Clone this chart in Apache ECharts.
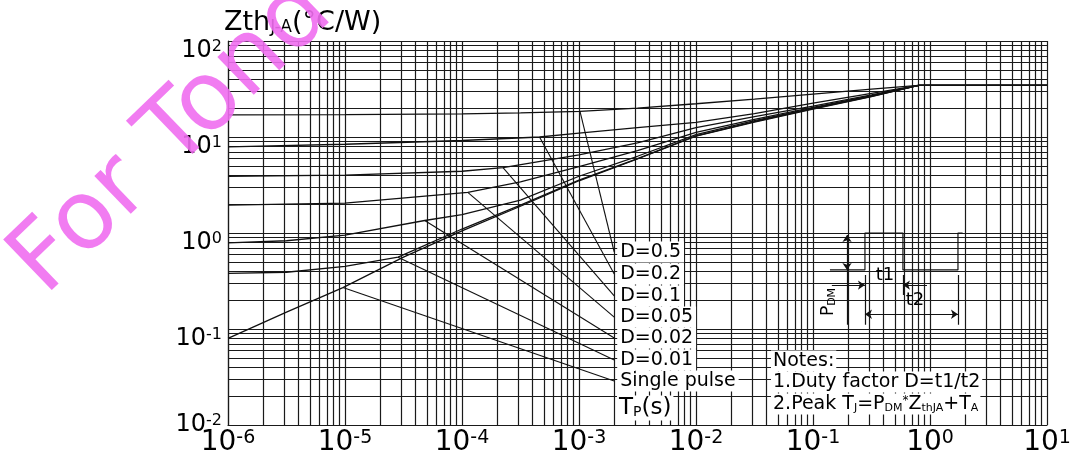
<!DOCTYPE html>
<html>
<head>
<meta charset="utf-8">
<script src="https://cdn.jsdelivr.net/npm/echarts@6.0.0/dist/echarts.min.js"></script>
<style>
  html, body { margin: 0; padding: 0; background: #fff; }
  #chart { width: 1079px; height: 455px; }
</style>
</head>
<body>
<div id="chart"></div>
<script>
// --- DATA ---
// [Tp (s), ZthJ-A (°C/W)]
const curveD05 = [[1e-6, 17], [1e-5, 17.1], [1e-4, 17.4], [3.16e-4, 17.8], [1.02e-3, 18.5], [3.16e-3, 20], [1e-2, 22.2], [3.16e-2, 24.8], [0.1, 28], [0.316, 31.5], [0.8, 34.5], [10, 34.5]];
const curveD02 = [[1e-6, 7.9], [1e-5, 8.4], [1e-4, 9.2], [4.6e-4, 10], [1e-3, 11], [3.16e-3, 12.5], [1e-2, 14.2], [3.16e-2, 17.5], [0.1, 22.5], [0.316, 28.5], [0.8, 34.5], [10, 34.5]];
const curveD01 = [[1e-6, 3.9], [1e-5, 4.0], [1e-4, 4.4], [2.24e-4, 4.8], [1e-3, 6.5], [3.16e-3, 8.7], [1e-2, 12.5], [3.16e-2, 16.3], [0.1, 21], [0.316, 27.5], [0.8, 34.5], [10, 34.5]];
const curveD005 = [[1e-6, 1.95], [1e-5, 2.05], [1.12e-4, 2.65], [3.16e-4, 3.4], [1e-3, 4.9], [3.16e-3, 7.2], [1e-2, 11.2], [3.16e-2, 15.3], [0.1, 20.4], [0.316, 27], [0.8, 34.5], [10, 34.5]];
const curveD002 = [[1e-6, 0.79], [3.16e-6, 0.83], [1e-5, 0.95], [4.8e-5, 1.35], [1e-4, 1.55], [3.16e-4, 2.2], [1e-3, 3.9], [3.16e-3, 6.3], [1e-2, 10.6], [3.16e-2, 14.8], [0.1, 20], [0.316, 26.8], [0.8, 34.5], [10, 34.5]];
const curveD001 = [[1e-6, 0.38], [3.16e-6, 0.39], [1e-5, 0.45], [2.84e-5, 0.56], [1e-4, 1.1], [3.16e-4, 1.95], [1e-3, 3.55], [3.16e-3, 5.95], [1e-2, 10.3], [3.16e-2, 14.5], [0.1, 19.7], [0.316, 26.5], [0.8, 34.5], [10, 34.5]];
const curveSingle = [[1e-6, 0.08], [3.16e-6, 0.15], [9.6e-6, 0.27], [3.16e-5, 0.56], [1e-4, 1.05], [3.16e-4, 1.9], [1e-3, 3.5], [3.16e-3, 5.9], [1e-2, 10.2], [3.16e-2, 14.3], [0.1, 19.5], [0.316, 26.4], [0.8, 34.5], [10, 34.5]];

// leader lines: from a point on the curve to its label
const leaderD05 = [[1.02e-3, 18.5], [2e-3, 0.634]];
const leaderD02 = [[4.6e-4, 10], [2e-3, 0.374]];
const leaderD01 = [[2.24e-4, 4.8], [2e-3, 0.221]];
const leaderD005 = [[1.12e-4, 2.65], [2e-3, 0.133]];
const leaderD002 = [[4.8e-5, 1.35], [2e-3, 0.0806]];
const leaderD001 = [[2.84e-5, 0.56], [2e-3, 0.0475]];
const leaderSingle = [[9.6e-6, 0.27], [2e-3, 0.0287]];

const dutyLabels = ['D=0.5', 'D=0.2', 'D=0.1', 'D=0.05', 'D=0.02', 'D=0.01', 'Single pulse'];

// log paper grid
const gridMultipliers = [1, 2, 3, 4, 5, 6, 7, 8, 9];
const xDecades = [1e-6, 1e-5, 1e-4, 1e-3, 1e-2, 1e-1, 1];
const yDecades = [0.01, 0.1, 1, 10];
const xMin = 1e-6, xMax = 10, yMin = 0.01, yMax = 100;

// inset pulse sketch (data coords)
const pulseShape = [[0.1396, 0.412], [0.278, 0.412], [0.278, 1.0], [0.587, 1.0], [0.587, 0.412], [1.734, 0.412], [1.734, 1.0], [1.9, 1.0]];
const insetBox = [[0.13, 0.98], [1.88, 0.11]];
const arrowsBoth = [
  [[0.1954, 0.953], [0.1954, 0.412]],   // P_DM
  [[0.278, 0.1425], [1.734, 0.1425]]    // t2
];
const arrowsEnd = [
  [[0.145, 0.287], [0.278, 0.287]],     // t1 from left
  [[0.942, 0.287], [0.587, 0.287]]      // t1 from right
];
const plainLines = [
  [[0.1954, 0.412], [0.1954, 0.1106]],
  [[0.278, 0.365], [0.278, 0.1106]],
  [[0.587, 0.365], [0.587, 0.226]],
  [[1.734, 0.365], [1.734, 0.1106]]
];

// --- BUILD ---
const FONT = 'DejaVu Sans';
const INK = '#111';

const xGrid = [];
xDecades.forEach(d => gridMultipliers.forEach(m => xGrid.push(m * d)));
xGrid.push(xMax);
const yGrid = [];
yDecades.forEach(d => gridMultipliers.forEach(m => yGrid.push(m * d)));
yGrid.push(yMax);

const expOf = v => Math.round(Math.log10(v));

const curves = [curveD05, curveD02, curveD01, curveD005, curveD002, curveD001, curveSingle];
const leaders = [leaderD05, leaderD02, leaderD01, leaderD005, leaderD002, leaderD001, leaderSingle];

const series = [];

// grid lines
series.push({
  type: 'lines', coordinateSystem: 'cartesian2d', z: 1, silent: true,
  polyline: false, symbol: 'none',
  lineStyle: { color: '#1a1a1a', width: 1.2, opacity: 1, curveness: 0 },
  data: xGrid.map(v => ({ coords: [[v, yMin], [v, yMax]] }))
    .concat(yGrid.map(v => ({ coords: [[xMin, v], [xMax, v]] })))
});

// white inset box
series.push({
  type: 'line', data: [], z: 2, silent: true,
  markArea: {
    silent: true, animation: false,
    itemStyle: { color: '#fff' },
    data: [[{ coord: insetBox[0] }, { coord: insetBox[1] }]]
  }
});

curves.forEach((c, i) => {
  series.push({
    name: dutyLabels[i], type: 'line', data: c, z: 3, silent: true,
    symbol: 'none', lineStyle: { color: INK, width: 1.3 }
  });
});

leaders.forEach((l, i) => {
  series.push({
    name: dutyLabels[i] + ' ', type: 'line', data: l, z: 4, silent: true,
    symbol: 'none', lineStyle: { color: INK, width: 1.1 },
    endLabel: {
      show: true, formatter: dutyLabels[i], distance: 3,
      color: '#000', fontFamily: FONT, fontSize: 19,
      backgroundColor: '#fff', padding: [1, 3, 1, 3]
    }
  });
});

// inset sketch
series.push({
  type: 'line', data: pulseShape, z: 5, silent: true,
  symbol: 'none', lineStyle: { color: INK, width: 1.2 }
});
const sketchLines = (pairs, sym) => ({
  type: 'lines', coordinateSystem: 'cartesian2d', z: 5, silent: true,
  polyline: false, symbol: sym, symbolSize: 7,
  lineStyle: { color: INK, width: 1.2, opacity: 1, curveness: 0 },
  data: pairs.map(p => ({ coords: p }))
});
series.push(sketchLines(arrowsBoth, ['arrow', 'arrow']));
series.push(sketchLines(arrowsEnd, ['none', 'arrow']));
series.push(sketchLines(plainLines, 'none'));

const txt = (x, y, text, size, extra) => ({
  type: 'text', x: x, y: y, z: 50, silent: true,
  style: Object.assign({
    text: text, fill: '#000', font: size + 'px "' + FONT + '"',
    fontFamily: FONT, fontSize: size,
    align: 'left', verticalAlign: 'middle',
    textAlign: 'left', textVerticalAlign: 'middle'
  }, extra || {})
});

const sub = sz => ({ fontSize: sz, fontFamily: FONT, verticalAlign: 'bottom', fill: '#000' });

const chart = echarts.init(document.getElementById('chart'));
chart.setOption({
  animation: false,
  backgroundColor: '#fff',
  grid: { left: 228, top: 41, right: 32, bottom: 30, outerBoundsMode: 'none', containLabel: false },
  xAxis: {
    type: 'log', logBase: 10, min: xMin, max: xMax, splitNumber: 7,
    axisLine: { show: true, lineStyle: { color: '#1a1a1a', width: 1.2 } },
    axisTick: { show: false }, splitLine: { show: false },
    axisLabel: {
      margin: 4,
      formatter: v => '{b|10}{s|' + expOf(v) + '}',
      rich: {
        b: { fontSize: 28, fontFamily: FONT, color: '#000' },
        s: { fontSize: 19, fontFamily: FONT, color: '#000', verticalAlign: 'top' }
      }
    }
  },
  yAxis: {
    type: 'log', logBase: 10, min: yMin, max: yMax, splitNumber: 4,
    axisLine: { show: true, lineStyle: { color: '#1a1a1a', width: 1.2 } },
    axisTick: { show: false }, splitLine: { show: false },
    axisLabel: {
      margin: 6,
      padding: [20, 0, 0, 0],
      formatter: v => {
        const e = expOf(v);
        return e === -2 ? '{c|10}{s|' + e + '}' : '{b|10}{s|' + e + '}';
      },
      rich: {
        b: { fontSize: 24, fontFamily: FONT, color: '#000' },
        c: { fontSize: 24, fontFamily: FONT, color: '#000', padding: [0, 0, 20, 0] },
        s: { fontSize: 16, fontFamily: FONT, color: '#000', verticalAlign: 'top' }
      }
    }
  },
  graphic: [
    // watermark
    {
      type: 'text', x: 61, y: 313, rotation: 44 * Math.PI / 180, z: 80, silent: true,
      style: {
        text: 'For Tond', fill: 'rgba(240,110,240,0.9)',
        font: '96px "' + FONT + '"', fontSize: 96, fontFamily: FONT,
        align: 'left', verticalAlign: 'bottom', textAlign: 'left', textVerticalAlign: 'bottom'
      }
    },
    txt(224, 23, '{a|Zth}{b|J-A}{a|(°C/W)}', 27, {
      rich: { a: { fontSize: 27, fontFamily: FONT, fill: '#000' }, b: sub(17) }
    }),
    txt(617, 408, '{a|T}{b|P}{a|(s)}', 22, {
      backgroundColor: '#fff', padding: [1, 2, 1, 2],
      rich: { a: { fontSize: 23, fontFamily: FONT, fill: '#000' }, b: sub(14) }
    }),
    txt(771, 361, 'Notes:', 19, { backgroundColor: '#fff', padding: [1, 2, 1, 2] }),
    txt(771, 382, '1.Duty factor D=t1/t2', 19, { backgroundColor: '#fff', padding: [1, 2, 1, 2] }),
    txt(771, 404, '{a|2.Peak T}{s|J}{a|=P}{s|DM}{u|*}{a|Z}{s|thJA}{a|+T}{s|A}', 19, {
      backgroundColor: '#fff', padding: [1, 2, 1, 2],
      rich: {
        a: { fontSize: 19, fontFamily: FONT, fill: '#000' },
        s: sub(11),
        u: { fontSize: 12, fontFamily: FONT, fill: '#000', verticalAlign: 'top' }
      }
    }),
    txt(885, 275, 't1', 18, { align: 'center', textAlign: 'center' }),
    txt(915, 300, 't2', 18, { align: 'center', textAlign: 'center' }),
    Object.assign(txt(829, 302, '{a|P}{s|DM}', 17, {
      align: 'center', textAlign: 'center',
      rich: { a: { fontSize: 17, fontFamily: FONT, fill: '#000' }, s: sub(11) }
    }), { rotation: Math.PI / 2 })
  ],
  series: series
});
</script>
</body>
</html>
